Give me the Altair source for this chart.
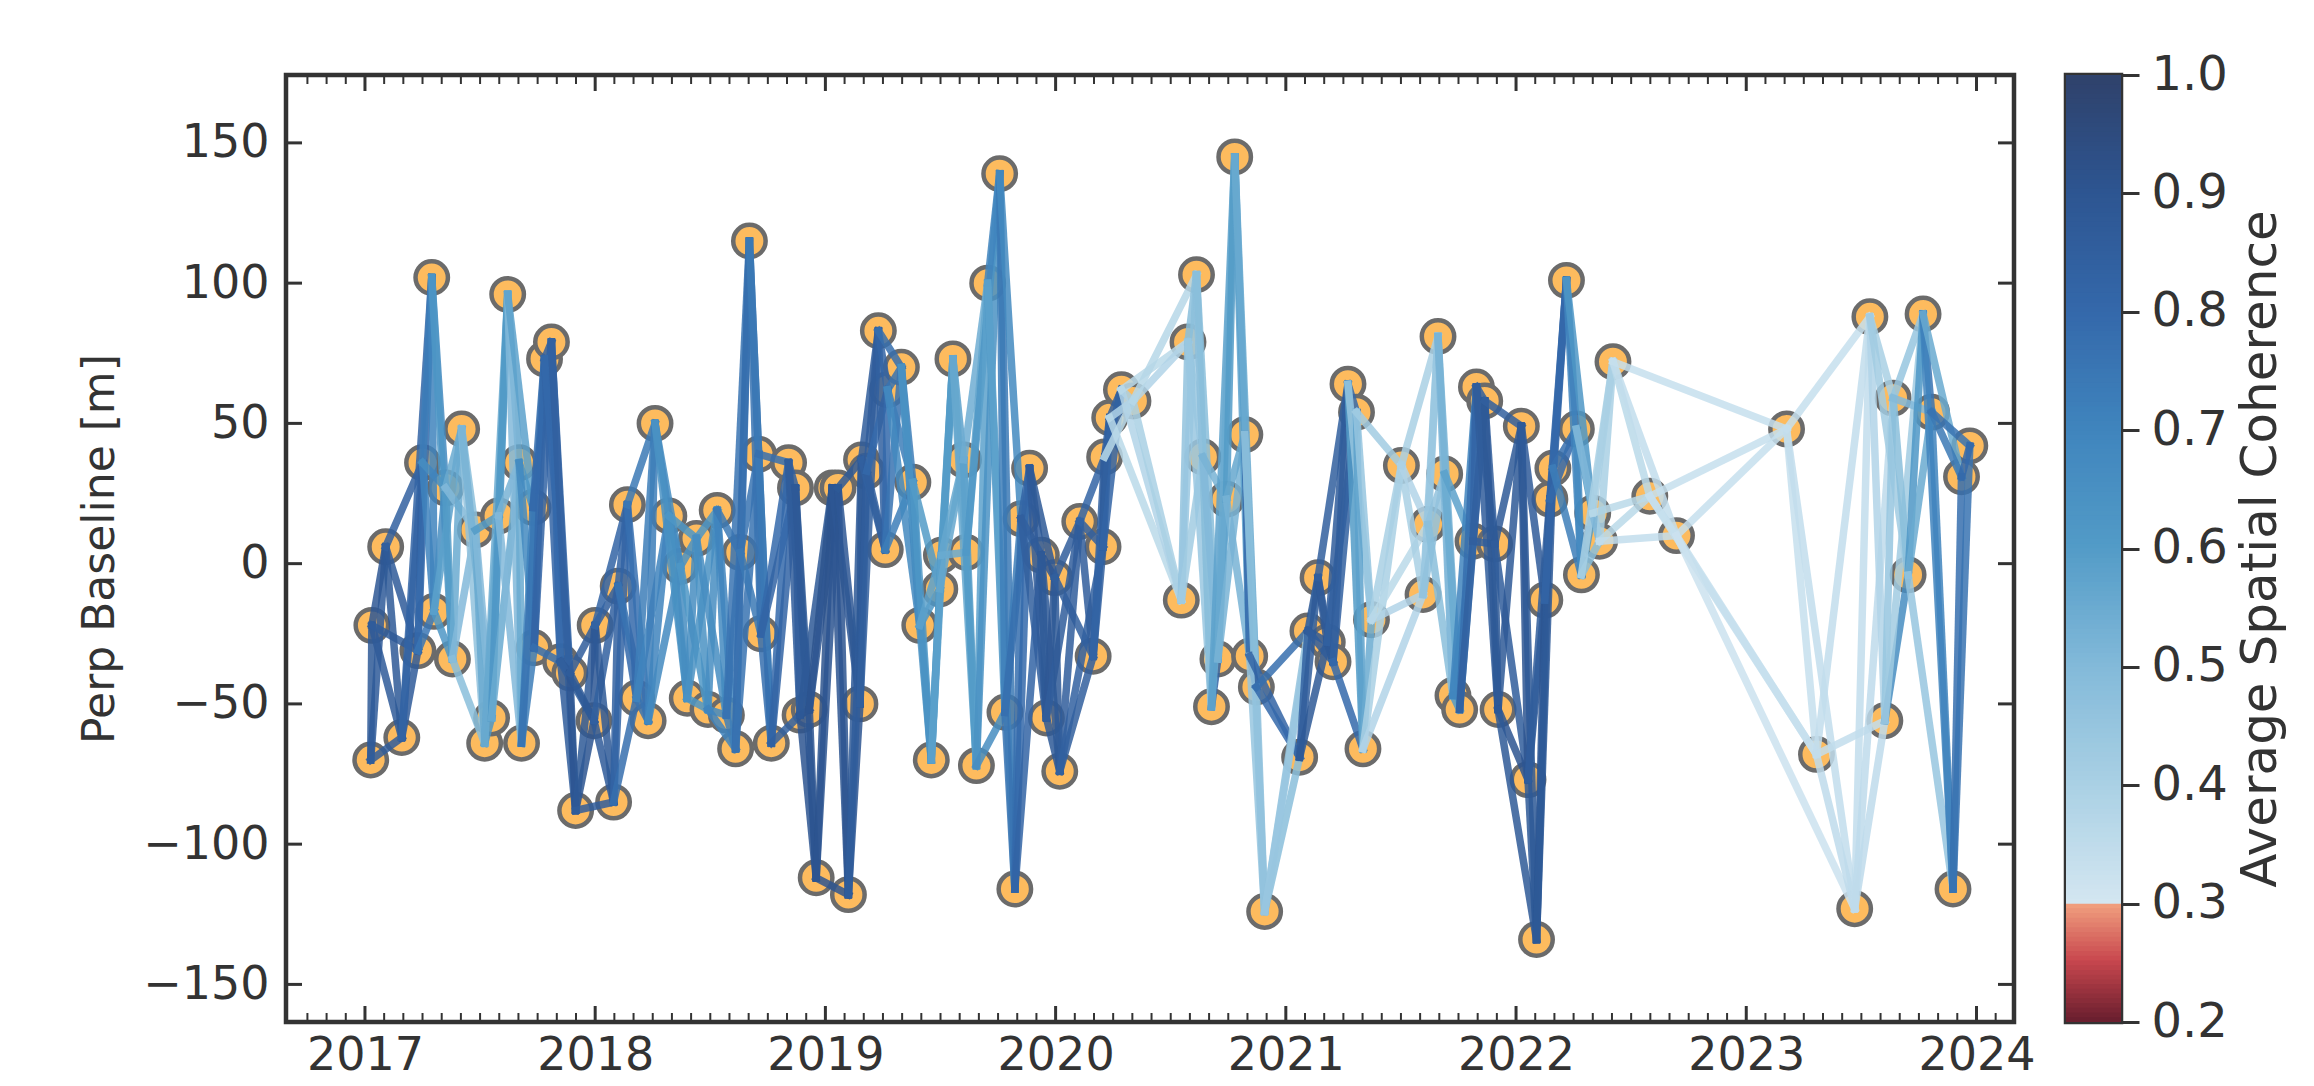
import altair as alt
import pandas as pd

# ---------------- data ----------------
# acquisition dates (decimal years) and perpendicular baselines [m]
DATES = [
    2017.025, 2017.03, 2017.09, 2017.16, 2017.23, 2017.25, 2017.29, 2017.30, 2017.35, 2017.38,
    2017.42, 2017.48, 2017.52, 2017.55, 2017.58, 2017.62, 2017.67, 2017.68, 2017.73, 2017.735,
    2017.78, 2017.81, 2017.85, 2017.89, 2017.915, 2017.995, 2018.00, 2018.08, 2018.10, 2018.14,
    2018.18, 2018.23, 2018.26, 2018.32, 2018.37, 2018.40, 2018.44, 2018.49, 2018.53, 2018.57,
    2018.61, 2018.63, 2018.67, 2018.71, 2018.72, 2018.765, 2018.84, 2018.87, 2018.89, 2018.93,
    2018.96, 2019.03, 2019.055, 2019.10, 2019.15, 2019.157, 2019.18, 2019.23, 2019.26, 2019.27,
    2019.33, 2019.38, 2019.41, 2019.46, 2019.497, 2019.504, 2019.554, 2019.60, 2019.612, 2019.656,
    2019.705, 2019.757, 2019.78, 2019.823, 2019.85, 2019.887, 2019.938, 2019.96, 2019.996, 2020.018,
    2020.105, 2020.163, 2020.206, 2020.213, 2020.235, 2020.286, 2020.336, 2020.546, 2020.575, 2020.612,
    2020.64, 2020.677, 2020.705, 2020.742, 2020.778, 2020.822, 2020.843, 2020.872, 2020.908, 2021.06,
    2021.096, 2021.14, 2021.18, 2021.205, 2021.27, 2021.307, 2021.335, 2021.372, 2021.502, 2021.596,
    2021.618, 2021.661, 2021.69, 2021.726, 2021.755, 2021.813, 2021.828, 2021.864, 2021.907, 2021.922,
    2022.023, 2022.052, 2022.089, 2022.125, 2022.147, 2022.16, 2022.219, 2022.262, 2022.284, 2022.333,
    2022.363, 2022.421, 2022.581, 2022.697, 2023.175, 2023.305, 2023.471, 2023.537, 2023.602, 2023.638,
    2023.703, 2023.768, 2023.805, 2023.898, 2023.935, 2023.971,
]

BASELINES = [
    -70, -22, 6, -62, -31, 36, 102, -17, 27, -34,
    48, 12, -64, -55, 17, 96, 36, -64, 20, -30,
    73, 79, -35, -39, -88, -56, -22, -85, -8, 21,
    -48, -56, 50, 17, -1, -48, 9, -52, 19, -54,
    -66, 4, 115, 39, -25, -64, 36, 27, -54, -52,
    -112, 27, 27, -118, -50, 37, 33, 83, 5, 62,
    70, 29, -22, -70, -9, 3, 73, 37, 4, -72,
    100, 139, -53, -116, 16, 34, 3, -55, -5, -74,
    15, -33, 6, 38, 52, 62, 58, -13, 79, 103,
    38, -51, -34, 23, 145, 46, -33, -44, -124, -69,
    -24, -5, -28, -35, 64, 54, -66, -20, 35, -11,
    14, 81, 32, -47, -52, 8, 63, 58, 7, -52,
    49, -77, -134, -13, 23, 34, 101, 48, -4, 18,
    8, 72, 24, 10, 48, -68, -123, 88, -56, 59,
    -4, 89, 54, -116, 31, 42,
]

# average spatial coherence of each interferogram: date i paired with i+1, i+2, i+3
COH = [
    [0.88, 0.87, 0.86], [0.89, 0.87, 0.86], [0.88, 0.87, 0.84], [0.87, 0.85, 0.82], [0.84, 0.80, 0.75],
    [0.72, 0.70, 0.66], [0.70, 0.68, 0.62], [0.66, 0.62, 0.58], [0.60, 0.55, 0.50], [0.55, 0.50, 0.48],
    [0.48, 0.46, 0.52], [0.55, 0.50, 0.60], [0.62, 0.58, 0.55], [0.58, 0.62, 0.55], [0.60, 0.52, 0.50],
    [0.56, 0.50, 0.58], [0.55, 0.62, 0.68], [0.70, 0.72, 0.76], [0.74, 0.78, 0.80], [0.80, 0.82, 0.78],
    [0.84, 0.82, 0.80], [0.80, 0.82, 0.84], [0.88, 0.86, 0.85], [0.90, 0.88, 0.86], [0.90, 0.88, 0.86],
    [0.89, 0.87, 0.84], [0.88, 0.85, 0.82], [0.84, 0.82, 0.78], [0.82, 0.80, 0.76], [0.80, 0.77, 0.74],
    [0.76, 0.72, 0.70], [0.72, 0.70, 0.68], [0.70, 0.66, 0.64], [0.68, 0.65, 0.62], [0.66, 0.64, 0.62],
    [0.66, 0.62, 0.64], [0.64, 0.62, 0.66], [0.66, 0.68, 0.70], [0.68, 0.70, 0.74], [0.72, 0.76, 0.76],
    [0.76, 0.78, 0.76], [0.78, 0.76, 0.74], [0.78, 0.76, 0.74], [0.76, 0.74, 0.78], [0.78, 0.80, 0.82],
    [0.80, 0.82, 0.84], [0.84, 0.86, 0.86], [0.86, 0.88, 0.88], [0.90, 0.90, 0.88], [0.90, 0.91, 0.90],
    [0.91, 0.90, 0.90], [0.91, 0.90, 0.89], [0.90, 0.89, 0.88], [0.90, 0.88, 0.86], [0.88, 0.86, 0.85],
    [0.87, 0.86, 0.84], [0.86, 0.85, 0.80], [0.84, 0.82, 0.78], [0.80, 0.76, 0.72], [0.76, 0.72, 0.68],
    [0.72, 0.68, 0.64], [0.66, 0.62, 0.60], [0.64, 0.62, 0.58], [0.66, 0.60, 0.58], [0.62, 0.58, 0.56],
    [0.60, 0.56, 0.55], [0.58, 0.55, 0.56], [0.56, 0.58, 0.54], [0.60, 0.56, 0.62], [0.58, 0.64, 0.66],
    [0.70, 0.62, 0.58], [0.72, 0.74, 0.68], [0.76, 0.72, 0.78], [0.78, 0.80, 0.82], [0.82, 0.84, 0.85],
    [0.86, 0.87, 0.88], [0.88, 0.89, 0.88], [0.89, 0.88, 0.86], [0.88, 0.86, 0.85], [0.86, 0.85, 0.84],
    [0.86, 0.84, 0.82], [0.85, 0.84, 0.82], [0.86, 0.84, 0.82], [0.84, 0.82, 0.36], [0.84, 0.38, 0.36],
    [0.40, 0.38, 0.36], [0.40, 0.38, 0.37], [0.46, 0.44, 0.42], [0.48, 0.45, 0.44], [0.50, 0.46, 0.48],
    [0.48, 0.50, 0.52], [0.82, 0.55, 0.58], [0.58, 0.55, 0.52], [0.60, 0.56, 0.52], [0.62, 0.58, 0.55],
    [0.80, 0.50, 0.48], [0.86, 0.45, 0.82], [0.46, 0.80, 0.78], [0.48, 0.46, 0.44], [0.84, 0.86, 0.88],
    [0.88, 0.88, 0.86], [0.89, 0.87, 0.85], [0.88, 0.86, 0.84], [0.86, 0.84, 0.80], [0.80, 0.60, 0.45],
    [0.58, 0.45, 0.42], [0.55, 0.40, 0.38], [0.40, 0.38, 0.36], [0.40, 0.38, 0.40], [0.42, 0.44, 0.46],
    [0.44, 0.46, 0.48], [0.48, 0.50, 0.52], [0.50, 0.55, 0.58], [0.60, 0.65, 0.70], [0.70, 0.78, 0.84],
    [0.82, 0.84, 0.85], [0.85, 0.86, 0.86], [0.86, 0.88, 0.85], [0.88, 0.88, 0.86], [0.88, 0.90, 0.88],
    [0.90, 0.88, 0.87], [0.88, 0.87, 0.86], [0.90, 0.88, 0.88], [0.86, 0.84, 0.82], [0.84, 0.82, 0.80],
    [0.80, 0.78, 0.72], [0.76, 0.70, 0.62], [0.68, 0.60, 0.50], [0.60, 0.48, 0.40], [0.50, 0.40, 0.36],
    [0.40, 0.36, 0.34], [0.36, 0.34, 0.33], [0.34, 0.33, 0.33], [0.33, 0.33, 0.32], [0.33, 0.34, 0.33],
    [0.35, 0.34, 0.34], [0.34, 0.35, 0.35], [0.38, 0.40, 0.42], [0.45, 0.66, 0.42], [0.48, 0.45, 0.50],
    [0.62, 0.55, 0.45], [0.76, 0.70, 0.55], [0.70, 0.74, 0.76], [0.78, 0.76], [0.80],
]

X_TICKS = [2017, 2018, 2019, 2020, 2021, 2022, 2023, 2024]
Y_TICKS = [-150, -100, -50, 0, 50, 100, 150]
CB_TICKS = [0.2, 0.3, 0.4, 0.5, 0.6, 0.7, 0.8, 0.9, 1.0]

# colour map of the colorbar (red below 0.3, blues above)
CB_STOPS = [0.2, 0.25, 0.2999, 0.3, 0.4, 0.5, 0.6, 0.7, 0.8, 0.9, 1.0]
CB_COLORS = ["#6b1f2f", "#c8474e", "#f3a481", "#d3e6f1", "#a9d0e4", "#82b9d9",
             "#529bc7", "#3f84bd", "#3468aa", "#2d5591", "#2f416a"]

X_DOMAIN = [2016.657, 2024.163]
Y_DOMAIN = [-163.4, 174.2]

W, H = 1728, 947
INK = "#333333"

# ---------------- tables ----------------
pts = pd.DataFrame({"t": DATES, "b": BASELINES})

rows = []
for i, cs in enumerate(COH):
    for k, c in enumerate(cs):
        j = i + k + 1
        rows.append({"t1": DATES[i], "b1": BASELINES[i],
                     "t2": DATES[j], "b2": BASELINES[j], "coh": c})
edges = pd.DataFrame(rows)

years = pd.DataFrame({"yr": X_TICKS})
months = pd.DataFrame({"mo": [y + m / 12.0 for y in range(2016, 2025) for m in range(12)
                              if X_DOMAIN[0] + 0.05 < y + m / 12.0 < X_DOMAIN[1] - 0.03
                              and m != 0]})
yt = pd.DataFrame({"yv": Y_TICKS})

xs = alt.Scale(domain=X_DOMAIN, nice=False, zero=False)
ys = alt.Scale(domain=Y_DOMAIN, nice=False, zero=False)
cscale = alt.Scale(domain=CB_STOPS, range=CB_COLORS, interpolate="rgb")

# same axis objects on every layer so that they merge
XAX = alt.Axis(values=X_TICKS, format="d", ticks=False, domain=False, grid=False,
               labelPadding=11, labelFlush=False, title=None)
YAX = alt.Axis(values=Y_TICKS, ticks=False, domain=False, grid=False, labelPadding=17,
               labelFlush=False, title="Perp Baseline [m]", titlePadding=20)

# ---------------- main panel ----------------
points = alt.Chart(pts).mark_point(
    shape="circle", filled=True, size=1050, fill="#fdbb5e", fillOpacity=1,
    stroke="#6b6b6b", strokeWidth=4.5, strokeOpacity=1
).encode(
    x=alt.X("t:Q", scale=xs, axis=XAX),
    y=alt.Y("b:Q", scale=ys, axis=YAX),
)

lines = alt.Chart(edges).mark_rule(strokeWidth=7.5, opacity=0.85, strokeCap="square").encode(
    x=alt.X("t1:Q", scale=xs, axis=XAX),
    x2="t2:Q",
    y=alt.Y("b1:Q", scale=ys, axis=YAX),
    y2="b2:Q",
    color=alt.Color("coh:Q", scale=cscale, legend=None),
)

def xtick(df, field, y0, y1, width):
    return alt.Chart(df).mark_rule(color=INK, strokeWidth=width).encode(
        x=alt.X(f"{field}:Q", scale=xs, axis=XAX), y=alt.value(y0), y2=alt.value(y1))

def ytick(x0, x1):
    return alt.Chart(yt).mark_rule(color=INK, strokeWidth=3).encode(
        y=alt.Y("yv:Q", scale=ys, axis=YAX), x=alt.value(x0), x2=alt.value(x1))

main = alt.layer(
    points, lines,
    xtick(years, "yr", H, H - 16, 3), xtick(years, "yr", 0, 16, 3),
    xtick(months, "mo", H, H - 9, 2), xtick(months, "mo", 0, 9, 2),
    ytick(0, 16), ytick(W, W - 16),
).properties(width=W, height=H)

# ---------------- colorbar ----------------
cb = pd.DataFrame({"v": [round(0.2 + 0.004 * i, 3) for i in range(200)]})
colorbar = alt.Chart(cb).mark_rect(clip=True).transform_calculate(
    v2="datum.v + 0.005"
).encode(
    y=alt.Y("v:Q", scale=alt.Scale(domain=[0.2, 1.0], nice=False, zero=False),
            axis=alt.Axis(orient="right", values=CB_TICKS, format=".1f", tickSize=18, tickWidth=3,
                          tickColor=INK, domain=False, grid=False, labelPadding=12,
                          labelFontSize=48, labelFlush=False,
                          title="Average Spatial Coherence", titleAngle=270, titleBaseline="top",
                          titleFontSize=50, titlePadding=8)),
    y2="v2:Q",
    color=alt.Color("v:Q", scale=cscale, legend=None),
).properties(width=55, height=H)

chart = alt.hconcat(main, colorbar, spacing=52, bounds="flush").resolve_scale(
    color="independent", y="independent"
).properties(
    padding={"left": 76, "top": 48, "right": 5, "bottom": 5},
    background="white",
).configure_view(
    stroke=INK, strokeWidth=4.5
).configure_axis(
    labelFont="DejaVu Sans", titleFont="DejaVu Sans", labelColor=INK, titleColor=INK,
    labelFontSize=46, titleFontSize=44, titleFontWeight="normal",
)

chart.save("out.html", embed_options={"renderer": "svg", "actions": False})
